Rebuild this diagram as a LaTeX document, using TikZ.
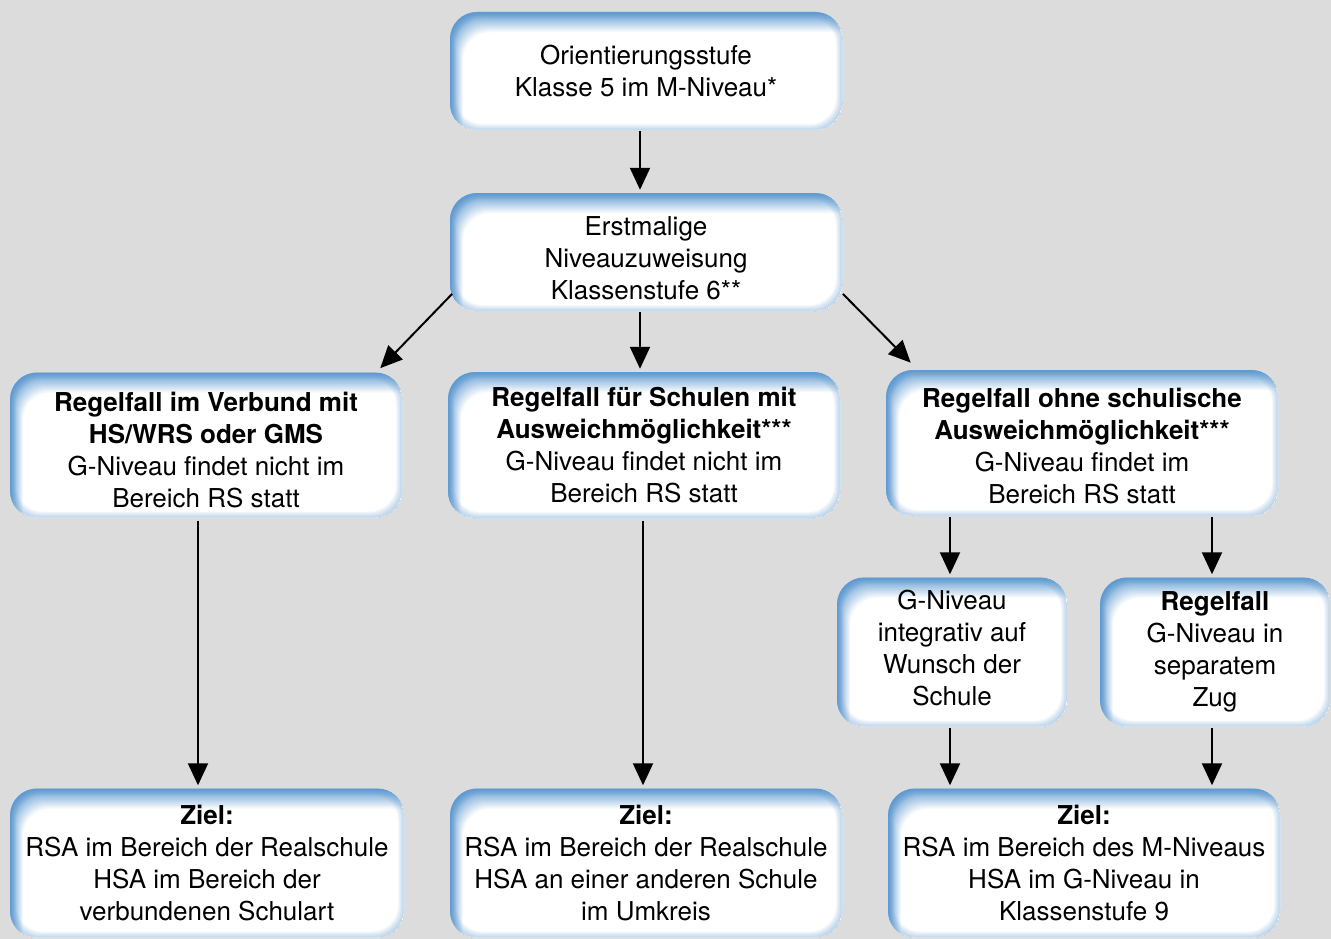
\documentclass[tikz,border=0pt]{standalone}
\usepackage{fontspec}
\setmainfont{TeX Gyre Heros}
\usetikzlibrary{arrows.meta,calc}
\definecolor{bg}{RGB}{220,220,220}
\definecolor{glow}{RGB}{95,155,210}
\tikzset{
 gbox/.style={rectangle, rounded corners=27pt, align=center, inner sep=0pt,
   font=\fontsize{26}{32}\selectfont, text=black,
   path picture={
     \foreach \i in {0,...,24}{
       \pgfmathsetmacro\q{100*(1-\i/24)}
       \fill[glow!\q!white, rounded corners=27pt]
         ($(path picture bounding box.north west)+({\i*0.55pt},{-\i*0.85pt})$) rectangle
         ($(path picture bounding box.south east)+(40pt,-40pt)$);
     }
     \foreach \i in {0,...,19}{
       \pgfmathsetmacro\o{0.36*(1-\i/20)}
       \fill[glow, fill opacity=\o, even odd rule, rounded corners=27pt]
         ($(path picture bounding box.north west)+({\i*0.3pt},{-\i*0.3pt})$) rectangle
         ($(path picture bounding box.south east)+({-\i*0.3pt},{\i*0.3pt})$)
         ($(path picture bounding box.north west)+({(\i+1)*0.3pt},{-(\i+1)*0.3pt})$) rectangle
         ($(path picture bounding box.south east)+({-(\i+1)*0.3pt},{(\i+1)*0.3pt})$);
     }
   }},
 arr/.style={line width=2pt, -{Triangle[width=20pt,length=22pt]}, shorten >=3pt, shorten <=1pt},
}
\begin{document}
\begin{tikzpicture}[x=1pt,y=-1pt]
\fill[bg] (0,0) rectangle (1331,939);
\useasboundingbox (0,0) rectangle (1331,939);

\node[gbox, minimum width=392pt, minimum height=118pt] (n1) at (646,71)
  {Orientierungsstufe\\Klasse 5 im M-Niveau*};
\node[gbox, minimum width=392pt, minimum height=118pt] (n2) at (646,252)
  {\rule{0pt}{31pt}Erstmalige\\Niveauzuweisung\\Klassenstufe 6**};
\node[gbox, minimum width=392pt, minimum height=145pt] (n3) at (206,445)
  {\rule{0pt}{29pt}\textbf{Regelfall im Verbund mit}\\\textbf{HS/WRS oder GMS}\\G-Niveau findet nicht im\\Bereich RS statt};
\node[gbox, minimum width=392pt, minimum height=146pt] (n4) at (644,445)
  {\textbf{Regelfall für Schulen mit}\\\textbf{Ausweichmöglichkeit***}\\G-Niveau findet nicht im\\Bereich RS statt};
\node[gbox, minimum width=392pt, minimum height=146pt] (n5) at (1082,443)
  {\rule{0pt}{25pt}\textbf{Regelfall ohne schulische}\\\textbf{Ausweichmöglichkeit***}\\G-Niveau findet im\\Bereich RS statt};
\node[gbox, minimum width=230pt, minimum height=149pt] (n6) at (952,652)
  {G-Niveau\\integrativ auf\\Wunsch der\\Schule\rule[-8pt]{0pt}{1pt}};
\node[gbox, minimum width=230pt, minimum height=149pt] (n7) at (1215,652)
  {\textbf{Regelfall}\\G-Niveau in\\separatem\\Zug};
\node[gbox, minimum width=394pt, minimum height=149pt] (n8) at (207,863)
  {\textbf{Ziel:}\\RSA im Bereich der Realschule\\HSA im Bereich der\\verbundenen Schulart};
\node[gbox, minimum width=392pt, minimum height=149pt] (n9) at (646,863)
  {\textbf{Ziel:}\\RSA im Bereich der Realschule\\HSA an einer anderen Schule\\im Umkreis};
\node[gbox, minimum width=392pt, minimum height=149pt] (n10) at (1084,863)
  {\textbf{Ziel:}\\RSA im Bereich des M-Niveaus\\HSA im G-Niveau in\\Klassenstufe 9};

\draw[arr] ($(n1.south)+(-6pt,0)$) -- ($(n2.north)+(-6pt,0)$);
\draw[arr] ($(n2.south west)+(3pt,18pt)$) -- ($(n3.north east)+(-24pt,2pt)$);
\draw[arr] ($(n2.south)+(-6pt,0)$) -- ($(n4.north)+(-4pt,0)$);
\draw[arr] ($(n2.south east)+(0pt,18pt)$) -- ($(n5.north west)+(27pt,5pt)$);
\draw[arr] ($(n3.south)+(-8pt,-2pt)$) -- ($(n8.north)+(-9pt,0pt)$);
\draw[arr] ($(n4.south)+(-1pt,-2pt)$) -- ($(n9.north)+(-3pt,0pt)$);
\draw[arr] ($(n5.south -| n6.north)+(-2pt,0)$) -- ($(n6.north)+(-2pt,0)$);
\draw[arr] ($(n5.south -| n7.north)+(-3pt,0)$) -- ($(n7.north)+(-3pt,0)$);
\draw[arr] ($(n6.south)+(-2pt,0)$) -- ($(n6.south |- n10.north)+(-2pt,0)$);
\draw[arr] ($(n7.south)+(-3pt,0)$) -- ($(n7.south |- n10.north)+(-3pt,0)$);
\end{tikzpicture}
\end{document}
